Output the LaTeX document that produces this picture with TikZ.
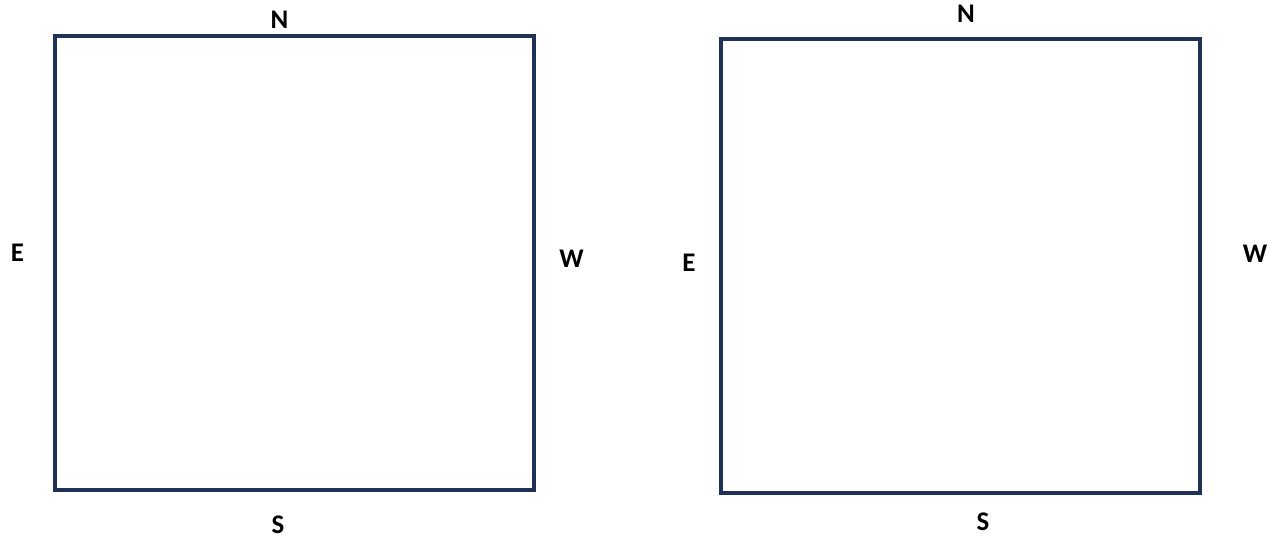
\documentclass[tikz,border=0pt]{standalone}
\usepackage{fontspec}
\setmainfont{Carlito}
\definecolor{navy}{RGB}{31,50,86}
\begin{document}
\begin{tikzpicture}[x=1bp,y=-1bp,
  sq/.style={draw=navy,line width=4bp,minimum width=479bp,minimum height=454bp,inner sep=0pt},
  lbl/.style={font=\fontsize{27}{32}\selectfont\bfseries,inner sep=0pt,anchor=base,text=black}]
\useasboundingbox (0,0) rectangle (1275,537);
\node[sq] (sqA) at (294.5,263) {};
\node[sq] (sqB) at (960.5,266) {};
\node[lbl] (nA) at (279.5,29) {N};
\node[lbl] (sA) at (278,533.5) {S};
\node[lbl] (eA) at (17.5,262) {E};
\node[lbl] (wA) at (571.5,268) {W};
\node[lbl] (nB) at (966,23) {N};
\node[lbl] (sB) at (983,530) {S};
\node[lbl] (eB) at (689,272) {E};
\node[lbl] (wB) at (1255,263) {W};
\end{tikzpicture}
\end{document}
